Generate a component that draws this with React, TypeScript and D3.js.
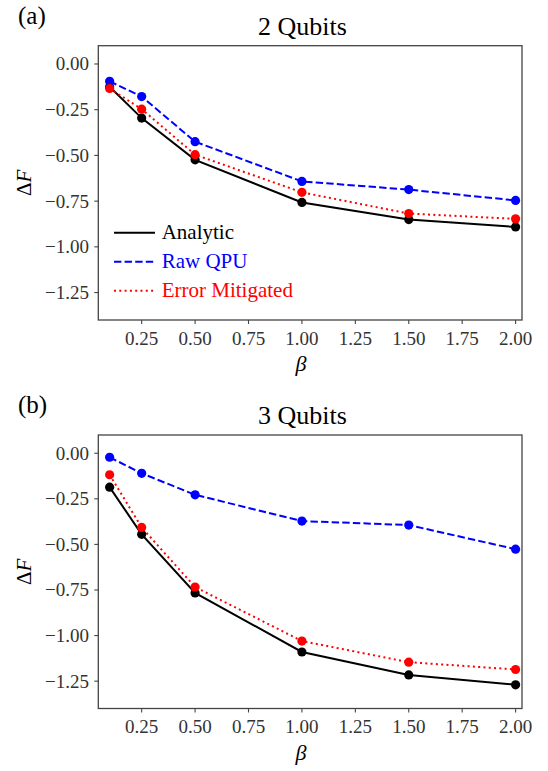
import React from "react";
import * as d3 from "d3";

const betas = [0.1, 0.25, 0.5, 1.0, 1.5, 2.0];

const analytic2 = [-0.124, -0.296, -0.524, -0.757, -0.851, -0.891];
const rawQpu2 = [-0.095, -0.178, -0.425, -0.642, -0.687, -0.746];
const mitigated2 = [-0.134, -0.247, -0.496, -0.702, -0.818, -0.847];

const analytic3 = [-0.186, -0.445, -0.766, -1.09, -1.216, -1.27];
const rawQpu3 = [-0.022, -0.11, -0.228, -0.372, -0.394, -0.526];
const mitigated3 = [-0.118, -0.407, -0.734, -1.03, -1.146, -1.186];

const xTicks = [0.25, 0.5, 0.75, 1.0, 1.25, 1.5, 1.75, 2.0];
const xTickLabels = ["0.25", "0.50", "0.75", "1.00", "1.25", "1.50", "1.75", "2.00"];
const yTicks = [0, -0.25, -0.5, -0.75, -1.0, -1.25];
const yTickLabels = ["0.00", "\u22120.25", "\u22120.50", "\u22120.75", "\u22121.00", "\u22121.25"];

const seriesNames = ["Analytic", "Raw QPU", "Error Mitigated"];
const seriesColors = ["#000000", "#0000ff", "#ff0000"];
const seriesDash = ["none", "7.4 3.2", "2 3.3"];

const FONT = "'Liberation Serif', serif";
const LEFT = 98.3;
const RIGHT = 522;

type PanelProps = {
  top: number;
  bottom: number;
  label: string;
  title: string;
  series: number[][];
  legend: boolean;
};

const Panel = (props: PanelProps) => {
  const x = d3.scaleLinear().domain([0.047, 2.03]).range([LEFT, RIGHT]);
  const y = d3.scaleLinear().domain([0.1, -1.4]).range([props.top, props.bottom]);
  const line = d3
    .line<number>()
    .x((d, i) => x(betas[i]))
    .y(d => y(d));

  return (
    <g style={{ fontFamily: FONT }}>
      <text x={18} y={props.top - 22} fontSize={25} fill="#000">
        {props.label}
      </text>
      <text x={302.5} y={props.top - 11} textAnchor="middle" fontSize={26} fill="#000">
        {props.title}
      </text>

      {props.series.map((vals, s) => (
        <g key={s}>
          <path
            d={line(vals) || ""}
            fill="none"
            stroke={seriesColors[s]}
            strokeWidth={2}
            strokeDasharray={seriesDash[s]}
          />
          {vals.map((v, i) => (
            <circle key={i} cx={x(betas[i])} cy={y(v)} r={4.6} fill={seriesColors[s]} />
          ))}
        </g>
      ))}

      <rect
        x={LEFT}
        y={props.top}
        width={RIGHT - LEFT}
        height={props.bottom - props.top}
        fill="none"
        stroke="#444"
        strokeWidth={1.3}
      />

      {xTicks.map((t, i) => (
        <g key={t}>
          <line x1={x(t)} x2={x(t)} y1={props.bottom} y2={props.bottom + 4} stroke="#444" strokeWidth={1.1} />
          <text x={x(t)} y={props.bottom + 24.5} textAnchor="middle" fontSize={19} fill="#333">
            {xTickLabels[i]}
          </text>
        </g>
      ))}

      {yTicks.map((t, i) => (
        <g key={t}>
          <line x1={LEFT - 4} x2={LEFT} y1={y(t)} y2={y(t)} stroke="#444" strokeWidth={1.1} />
          <text x={89} y={y(t) + 6.4} textAnchor="end" fontSize={19} fill="#333">
            {yTickLabels[i]}
          </text>
        </g>
      ))}

      <text
        x={301}
        y={props.bottom + 51}
        textAnchor="middle"
        fontSize={22}
        fontStyle="italic"
        fill="#000"
      >
        β
      </text>
      <text
        transform={`translate(31 ${(props.top + props.bottom) / 2}) rotate(-90)`}
        textAnchor="middle"
        fontSize={21}
        fill="#000"
      >
        Δ<tspan fontStyle="italic">F</tspan>
      </text>

      {props.legend &&
        seriesNames.map((name, s) => {
          const ly = props.top + 187 + s * 29;
          return (
            <g key={name}>
              <line
                x1={114}
                x2={155}
                y1={ly}
                y2={ly}
                stroke={seriesColors[s]}
                strokeWidth={2}
                strokeDasharray={seriesDash[s]}
              />
              <text x={161.7} y={ly + 6} fontSize={21} fill={seriesColors[s]}>
                {name}
              </text>
            </g>
          );
        })}
    </g>
  );
};

export default function App() {
  return (
    <svg width={548} height={771} style={{ position: "absolute", left: 0, top: 0 }}>
      <rect width={548} height={771} fill="#fff" />
      <Panel
        top={45.7}
        bottom={320}
        label="(a)"
        title="2 Qubits"
        series={[analytic2, rawQpu2, mitigated2]}
        legend={true}
      />
      <Panel
        top={435}
        bottom={708.5}
        label="(b)"
        title="3 Qubits"
        series={[analytic3, rawQpu3, mitigated3]}
        legend={false}
      />
    </svg>
  );
}
